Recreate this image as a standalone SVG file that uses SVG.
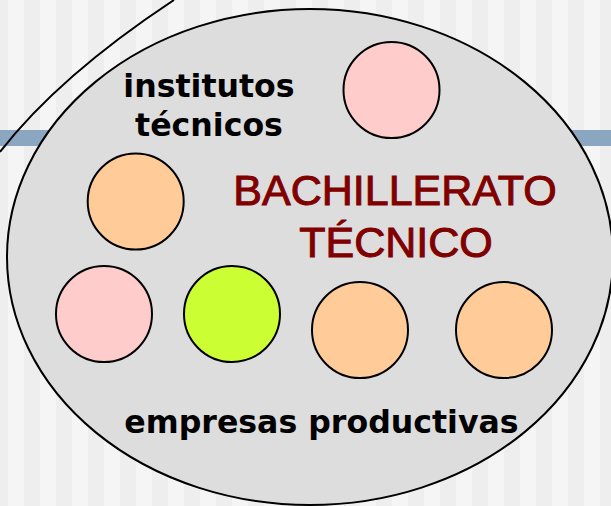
<svg xmlns="http://www.w3.org/2000/svg" width="611" height="506" viewBox="0 0 611 506">
  <style>
    .node { stroke: #000; stroke-width: 2; }
    .pink { fill: #ffcccc; }
    .orange { fill: #ffcc99; }
    .green { fill: #ccff33; }
    .label { font-family: "DejaVu Sans", Verdana, sans-serif; font-weight: bold; font-size: 31.6px; fill: #000; text-anchor: middle; }
    .title { font-family: "Liberation Sans", Arial, sans-serif; font-size: 43px; fill: #800000; stroke: #800000; stroke-width: 1; text-anchor: middle; }
  </style>
  <defs>
    <pattern id="stripes" patternUnits="userSpaceOnUse" x="-8" y="0" width="32" height="506">
      <rect x="0" y="0" width="16" height="506" fill="#eeeeee"/>
      <rect x="16" y="0" width="16" height="506" fill="#f5f5f5"/>
    </pattern>
  </defs>
  <g id="background">
    <rect x="0" y="0" width="611" height="506" fill="url(#stripes)"/>
    <rect x="0" y="130" width="611" height="16" fill="#8ba6c0"/>
    <path d="M0,152 Q59,76 174,0" fill="none" stroke="#000" stroke-width="2"/>
  </g>
  <g id="bachillerato">
    <ellipse cx="310" cy="257" rx="303" ry="248" fill="#dddddd" stroke="#000" stroke-width="2"/>
    <text class="title" x="395" y="205">BACHILLERATO</text>
    <text class="title" x="396" y="257">TÉCNICO</text>
  </g>
  <g id="institutos-label">
    <text class="label" x="209" y="97">institutos</text>
    <text class="label" x="209" y="136">técnicos</text>
  </g>
  <g id="empresas-label">
    <text class="label" x="321.5" y="433">empresas productivas</text>
  </g>
  <g id="circle-top"><circle class="node pink" cx="391.5" cy="90" r="48"/></g>
  <g id="circle-left"><circle class="node orange" cx="135.7" cy="201.5" r="48"/></g>
  <g id="circle-bottom-1"><circle class="node pink" cx="104" cy="314" r="48"/></g>
  <g id="circle-bottom-2"><circle class="node green" cx="232" cy="314" r="48"/></g>
  <g id="circle-bottom-3"><circle class="node orange" cx="360" cy="330" r="48"/></g>
  <g id="circle-bottom-4"><circle class="node orange" cx="504" cy="330" r="48"/></g>
  <g id="connectors"></g>
</svg>
